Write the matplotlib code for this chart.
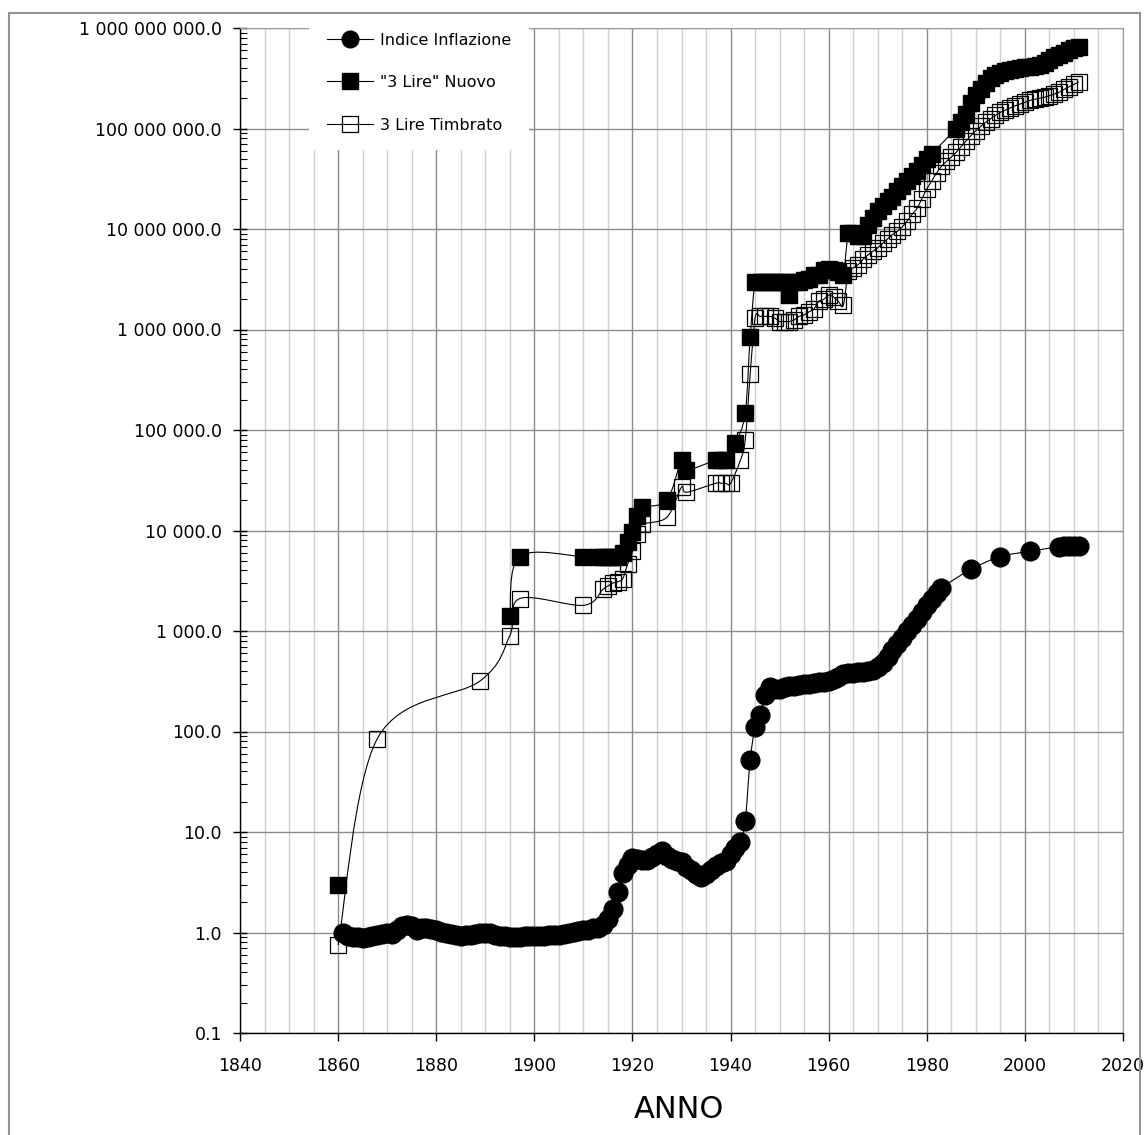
import numpy as np
import matplotlib
matplotlib.use('Agg')
import matplotlib.pyplot as plt
from matplotlib.path import Path
from matplotlib.patches import PathPatch, Rectangle
from matplotlib.lines import Line2D
from matplotlib.ticker import FixedLocator, LogLocator, MultipleLocator, FuncFormatter, NullFormatter

W, H = 1147, 1135

# --- dati ---
anni_infl = list(range(1861, 1984)) + [1989, 1995, 2001, 2007, 2008, 2009, 2010, 2011]
indice_inflazione = [
    1.00, 0.93, 0.90, 0.90, 0.88, 0.90, 0.92, 0.95, 0.97, 0.98,   # 1861-1870
    0.97, 1.05, 1.15, 1.20, 1.15, 1.05, 1.10, 1.12, 1.08, 1.05,   # 1871-1880
    1.02, 1.00, 0.97, 0.95, 0.93, 0.94, 0.95, 0.97, 1.00, 1.00,   # 1881-1890
    0.98, 0.95, 0.93, 0.92, 0.90, 0.90, 0.91, 0.92, 0.93, 0.93,   # 1891-1900
    0.93, 0.93, 0.94, 0.95, 0.95, 0.97, 1.00, 1.02, 1.03, 1.05,   # 1901-1910
    1.07, 1.10, 1.12, 1.20, 1.35, 1.70, 2.55, 3.90, 4.70, 5.50,   # 1911-1920
    5.40, 5.30, 5.30, 5.60, 6.10, 6.40, 5.80, 5.40, 5.20, 5.00,   # 1921-1930
    4.50, 4.20, 3.80, 3.60, 3.80, 4.20, 4.60, 4.90, 5.20, 6.00,   # 1931-1940
    7.0, 8.0, 13.0, 52.0, 110, 145, 230, 280, 265, 265,           # 1941-1950
    280, 285, 285, 290, 295, 300, 305, 310, 310, 320,             # 1951-1960
    330, 350, 370, 380, 385, 390, 395, 400, 410, 440,             # 1961-1970
    480, 550, 640, 740, 860, 1000, 1150, 1330, 1550, 1800,        # 1971-1980
    2100, 2400, 2700,                                             # 1981-1983
    4100, 5500, 6200, 6900, 6950, 7000, 7000, 7000,
]

# nan = interruzione della linea (come in Excel)
anni_nuovo = [1860, 1870, 1895, 1897, 1910, 1913, 1914, 1915, 1916, 1917, 1918, 1919,
              1920, 1921, 1922, 1927, 1930, 1931, 1937, 1938, 1939, 1941, 1943, 1944] + \
             list(range(1945, 1982)) + list(range(1986, 2012))
lire3_nuovo = [
    3.0, np.nan, 1400, 5500, 5500, 5500, 5500, 5500, 5500, 5500, 6000, 7700,
    9700, 14000, 17000, 20000, 50000, 40000, 50000, 50000, 50000, 74000, 148000, 850000,
    3.0e6, 3.0e6, 3.0e6, 3.0e6, 3.0e6, 3.0e6, 3.0e6, 2.2e6, 3.0e6, 3.0e6,      # 1945-1954
    3.1e6, 3.2e6, 3.5e6, 3.5e6, 3.9e6, 4.0e6, 3.9e6, 3.7e6, 3.5e6, 9.2e6,      # 1955-1964
    9.2e6, 8.5e6, 8.5e6, 11e6, 13e6, 15e6, 17e6, 19e6, 21e6, 24e6,            # 1965-1974
    27e6, 30e6, 34e6, 38e6, 43e6, 50e6, 56e6,                                # 1975-1981
    100e6, 115e6, 140e6, 180e6, 215e6, 250e6, 285e6, 320e6, 340e6, 360e6,    # 1986-1995
    370e6, 380e6, 390e6, 400e6, 405e6, 410e6, 420e6, 430e6, 450e6, 480e6,    # 1996-2005
    510e6, 540e6, 570e6, 600e6, 630e6, 650e6,                                # 2006-2011
]

anni_timbrato = [1860, 1868, 1889, 1895, 1897, 1910, 1914, 1915, 1916, 1917, 1918, 1919,
                 1920, 1921, 1922, 1927, 1930, 1931, 1937, 1938, 1939, 1940, 1942, 1943,
                 1944] + list(range(1945, 2012))
lire3_timbrato = [
    0.75, 85, 320, 900, 2100, 1800, 2600, 2800, 3000, 3100, 3300, 4600,
    6200, 9200, 11500, 13500, 27000, 24000, 29500, 29500, 29500, 29500, 50000, 80000,
    360000,
    1.3e6, 1.35e6, 1.35e6, 1.35e6, 1.3e6, 1.2e6, 1.2e6, 1.2e6, 1.25e6, 1.35e6,   # 1945-1954
    1.4e6, 1.5e6, 1.6e6, 1.9e6, 2.0e6, 2.2e6, 2.1e6, 1.9e6, 1.75e6, 3.8e6,       # 1955-1964
    4.1e6, 4.4e6, 5.0e6, 5.5e6, 6.0e6, 6.5e6, 7.2e6, 8.0e6, 8.8e6, 9.5e6,        # 1965-1974
    10.5e6, 12e6, 14e6, 16e6, 20e6, 25e6, 30e6, 36e6, 42e6, 47e6,               # 1975-1984
    52e6, 58e6, 66e6, 75e6, 85e6, 95e6, 105e6, 115e6, 125e6, 135e6,            # 1985-1994
    145e6, 152e6, 160e6, 168e6, 175e6, 182e6, 190e6, 195e6, 200e6, 205e6,       # 1995-2004
    212e6, 220e6, 230e6, 245e6, 260e6, 275e6, 290e6,                           # 2005-2011
]

y_ticks = [0.1, 1, 10, 100, 1e3, 1e4, 1e5, 1e6, 1e7, 1e8, 1e9]
x_ticks = [1840, 1860, 1880, 1900, 1920, 1940, 1960, 1980, 2000, 2020]


def curva_liscia(xs, ys):
    # linea "smussata" tipo Excel: bezier calcolate in (anno, log10 valore)
    xs = np.asarray(xs, float)
    ly = np.log10(np.asarray(ys, float))
    segs, cur = [], []
    for i in range(len(xs)):
        if np.isnan(ly[i]):
            if cur:
                segs.append(cur)
            cur = []
        else:
            cur.append(i)
    if cur:
        segs.append(cur)
    verts, codes = [], []
    for seg in segs:
        if len(seg) < 2:
            continue
        px, py = xs[seg], ly[seg]
        n = len(seg)
        verts.append((px[0], py[0]))
        codes.append(Path.MOVETO)
        for i in range(n - 1):
            a = max(i - 1, 0)
            d = min(i + 2, n - 1)
            c1 = (px[i] + (px[i + 1] - px[a]) / 6, py[i] + (py[i + 1] - py[a]) / 6)
            c2 = (px[i + 1] - (px[d] - px[i]) / 6, py[i + 1] - (py[d] - py[i]) / 6)
            verts += [c1, c2, (px[i + 1], py[i + 1])]
            codes += [Path.CURVE4] * 3
    v = np.array(verts)
    v[:, 1] = 10 ** v[:, 1]
    return Path(v, codes)


fig = plt.figure(figsize=(W / 100, H / 100), dpi=100)
ax = fig.add_axes([240 / W, 1 - 1033 / H, (1123 - 240) / W, (1033 - 28) / H])
ax.set_yscale('log')

serie = [
    (anni_infl, indice_inflazione, dict(marker='o', ms=13.5, mfc='black', mec='black')),
    (anni_nuovo, lire3_nuovo, dict(marker='s', ms=12, mfc='black', mec='black')),
    (anni_timbrato, lire3_timbrato, dict(marker='s', ms=12, mfc='none', mec='black', mew=0.9)),
]
z = 3
for xs, ys, st in serie:
    ax.add_patch(PathPatch(curva_liscia(xs, ys), fill=False, ec='black', lw=0.8, zorder=z))
    ax.plot(xs, ys, ls='none', zorder=z + 0.5, **st)
    z += 1

ax.set_xlim(1840, 2020)
ax.set_ylim(0.1, 1e9)
ax.xaxis.set_major_locator(FixedLocator(x_ticks))
ax.xaxis.set_minor_locator(MultipleLocator(5))
ax.yaxis.set_major_locator(FixedLocator(y_ticks))
ax.yaxis.set_minor_locator(LogLocator(base=10, subs=np.arange(2, 10), numticks=200))
ax.yaxis.set_minor_formatter(NullFormatter())
ax.yaxis.set_major_formatter(FuncFormatter(lambda v, p: '{:,.1f}'.format(v).replace(',', ' ')))

ax.grid(which='major', axis='both', color='#8c8c8c', lw=1)
ax.grid(which='minor', axis='x', color='#cfcfcf', lw=1)
ax.set_axisbelow(True)

ax.tick_params(axis='y', which='major', direction='inout', length=10, width=1,
               labelsize=12.5, pad=8, colors='black')
ax.tick_params(axis='y', which='minor', direction='in', length=5, width=0.8)
ax.tick_params(axis='x', which='major', direction='out', length=6, width=1,
               labelsize=12.5, pad=11)
ax.tick_params(axis='x', which='minor', length=0)

for s in ['top', 'right']:
    ax.spines[s].set_color('#9a9a9a')
for s in ['left', 'bottom']:
    ax.spines[s].set_color('black')
    ax.spines[s].set_linewidth(1)

handles = [Line2D([], [], color='black', lw=0.8, **st) for _, _, st in serie]
handles[0].set_markersize(12)
handles[1].set_markersize(11)
handles[2].set_markersize(11)
etichette = ['Indice Inflazione', '"3 Lire" Nuovo', '3 Lire Timbrato']
leg = fig.legend(handles, etichette, loc='upper left', bbox_to_anchor=(309 / W, 1 - 15 / H),
                 frameon=True, fancybox=False, framealpha=1, facecolor='white', edgecolor='none',
                 fontsize=11.5, handlelength=2.9, handletextpad=0.45, labelspacing=1.72,
                 borderpad=1.1, borderaxespad=0)

fig.text(679 / W, 1 - 1109 / H, 'ANNO', ha='center', va='center', fontsize=22)

fig.add_artist(Rectangle((9 / W, -0.01), (1140 - 9) / W, (H - 13) / H + 0.01,
                         transform=fig.transFigure, fill=False, ec='#939393', lw=1.5, zorder=10))

fig.savefig('out.png', dpi=100)
